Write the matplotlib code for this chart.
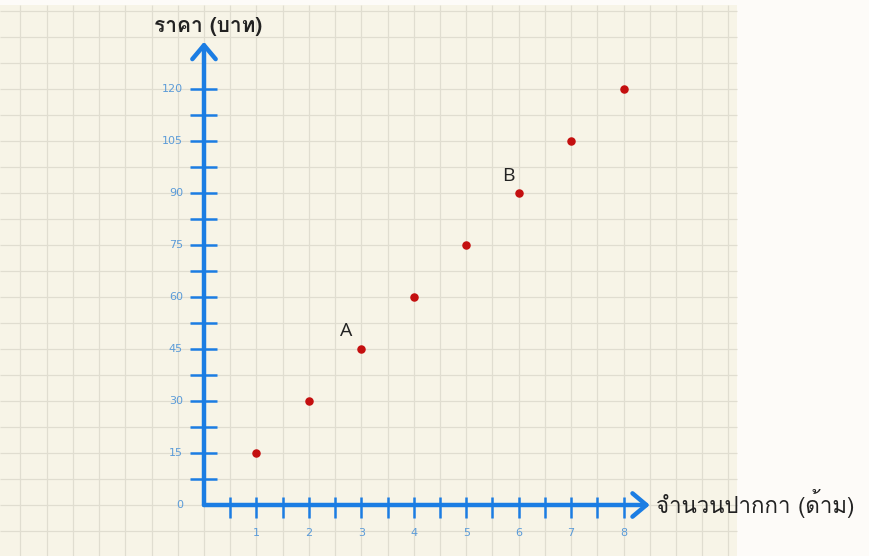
import matplotlib
import matplotlib.pyplot as plt
from matplotlib import font_manager
from matplotlib.patches import Rectangle
from fontTools.ttLib import TTFont
import numpy as np

matplotlib.use("Agg")

# data
pens = [1, 2, 3, 4, 5, 6, 7, 8]
price = [15, 30, 45, 60, 75, 90, 105, 120]
x_ticks = [1, 2, 3, 4, 5, 6, 7, 8]
y_ticks = [0, 15, 30, 45, 60, 75, 90, 105, 120]
marks = ["A", "B"]
mark_idx = [2, 5]
x_label = "จำนวนปากกา (ด้าม)"
y_label = "ราคา (บาท)"


def find_thai_font():
    for f in font_manager.fontManager.ttflist:
        try:
            cmap = TTFont(f.fname, fontNumber=0, lazy=True).getBestCmap()
        except Exception:
            continue
        if cmap and ord("ร") in cmap:
            return f.name
    return "DejaVu Sans"


thai = find_thai_font()

blue = "#1b7de3"
tick_blue = "#5b9bd8"

# pixel -> data scale, picture is 870x556
ox, oy = 204, 505
sx, sy = 52.45, 3.47

fig = plt.figure(figsize=(8.7, 5.56), dpi=100, facecolor="#fdfbf8")
ax = fig.add_axes([0, 0, 1, 1])
ax.set_xlim(-ox / sx, (870 - ox) / sx)
ax.set_ylim((oy - 556) / sy, oy / sy)
ax.axis("off")

# graph paper
px0, px1 = -ox / sx, (737 - ox) / sx
py0, py1 = (oy - 556) / sy, (oy - 5) / sy
ax.add_patch(Rectangle((px0, py0), px1 - px0, py1 - py0, facecolor="#f7f4e7",
                       edgecolor="none", zorder=0))
gx = np.arange(np.ceil(px0 * 2) / 2, px1, 0.5)
gy = np.arange(np.ceil(py0 / 7.5) * 7.5, py1, 7.5)
ax.vlines(gx, py0, py1, color="#e0ddd0", lw=0.9, zorder=1)
ax.hlines(gy, px0, px1, color="#e0ddd0", lw=0.9, zorder=1)

# axes with arrows
arrow = dict(arrowstyle="->,head_length=0.5,head_width=0.42", color=blue,
             lw=3.2, shrinkA=0, shrinkB=0, mutation_scale=20)
ax.annotate("", xy=(8.5, 0), xytext=(0, 0), arrowprops=arrow, zorder=3)
ax.annotate("", xy=(0, 133.5), xytext=(0, 0), arrowprops=arrow, zorder=3)

# ticks (every half step)
xt = np.arange(0.5, 8.01, 0.5)
yt = np.arange(7.5, 120.1, 7.5)
ax.vlines(xt, -3.8, 2.3, color=blue, lw=1.8, zorder=3)
ax.hlines(yt, -0.27, 0.25, color=blue, lw=1.8, zorder=3)

for v in x_ticks:
    ax.text(v, -8.2, str(v), color=tick_blue, fontsize=8, ha="center", va="center")
for v in y_ticks:
    ax.text(-0.4, v, str(v), color=tick_blue, fontsize=8, ha="right", va="center")

ax.scatter(pens, price, s=26, color="#c40f0f", zorder=4)

offsets = [(-0.29, 5.2), (-0.2, 4.8)]
for m, i, (dx, dy) in zip(marks, mark_idx, offsets):
    ax.text(pens[i] + dx, price[i] + dy, m, fontsize=14, color="#222222",
            ha="center", va="center", family=["Open Sans", "DejaVu Sans"])

ax.text(0.08, 138.0, y_label, fontsize=15, color="#222222", ha="center",
        va="center", family=[thai, "DejaVu Sans"], fontweight="bold")
ax.text(8.62, 0.3, x_label, fontsize=16, color="#222222", ha="left",
        va="center", family=[thai, "DejaVu Sans"])

fig.savefig("out.png", dpi=100, facecolor=fig.get_facecolor())
